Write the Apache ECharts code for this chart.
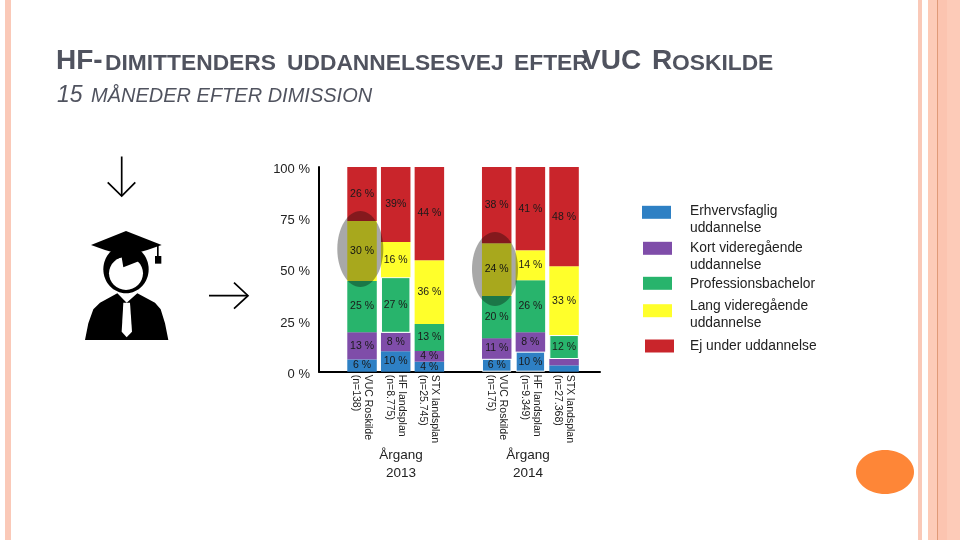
<!DOCTYPE html>
<html>
<head>
<meta charset="utf-8">
<style>html,body{margin:0;padding:0;background:#fff}#c{width:960px;height:540px}</style>
<script src="https://cdn.jsdelivr.net/npm/echarts@6/dist/echarts.min.js"></script>
</head>
<body>
<div id="c"></div>
<script>
var categories = ['VUC Roskilde\n(n=138)','HF landsplan\n(n=8.775)','STX landsplan\n(n=25.745)',' ','VUC Roskilde\n(n=175)','HF landsplan\n(n=9.349)','STX landsplan\n(n=27.368)'];
var yTicks = [0,25,50,75,100];
var erhverv   = [6.0, 10.0, 4.9, null, 6.3, 9.8, 3.1];
var kort      = [13.3, 9.0, 5.2, null, 10.1, 9.5, 3.1];
var prof      = [25.0, 27.2, 13.2, null, 20.6, 25.4, 11.7];
var lang      = [29.3, 17.1, 31.2, null, 25.8, 14.6, 33.6];
var ej        = [26.4, 36.7, 45.5, null, 37.2, 40.7, 48.5];
var erhvervLabels = ['6 %','10 %','4 %','','6 %','10 %',''];
var kortLabels    = ['13 %','8 %','4 %','','11 %','8 %',''];
var profLabels    = ['25 %','27 %','13 %','','20 %','26 %','12 %'];
var langLabels    = ['30 %','16 %','36 %','','24 %','14 %','33 %'];
var ejLabels      = ['26 %','39%','44 %','','38 %','41 %','48 %'];
var seriesNames = ['Erhvervsfaglig uddannelse','Kort videregående uddannelse','Professionsbachelor','Lang videregående uddannelse','Ej under uddannelse'];
var legendLines = ['Erhvervsfaglig\nuddannelse','Kort videregående\nuddannelse','Professionsbachelor','Lang videregående\nuddannelse','Ej under uddannelse'];
var colors = ['#2E80C4','#7F4DA9','#28B46C','#FFFF2B','#C9252B'];
var cohorts = ['Årgang\n2013','Årgang\n2014'];

var FONT = '"Liberation Sans", Arial, sans-serif';
var TITLE = '#50535F';

function stripe(x,w,c){return {type:'rect',silent:true,z:0,shape:{x:x,y:0,width:w,height:540},style:{fill:c}};}
function poly(pts,fill,z){return {type:'polygon',silent:true,z:z||5,shape:{points:pts.map(function(p){return [60+p[0]/3,150+p[1]/3];})},style:{fill:fill}};}
function ell(cx,cy,rx,ry,fill,z){return {type:'ellipse',silent:true,z:z||5,shape:{cx:60+cx/3,cy:150+cy/3,rx:rx/3,ry:ry/3},style:{fill:fill}};}
function arrow(lines){return lines.map(function(l){return {type:'polyline',silent:true,z:5,shape:{points:l},style:{stroke:'#000',lineWidth:1.7,fill:'none'}};});}
function titlePiece(text,x,y,size,style){
  return {text:text,left:x,top:y,padding:0,textStyle:{fontFamily:FONT,fontSize:size,fontWeight:style==='italic'?'normal':'bold',fontStyle:style==='italic'?'italic':'normal',color:TITLE}};
}

var legendY = [212.3,248.3,283.3,310.7,346];
var legendX = [642,643,643,643,645];
var legendTextY = [202.5,239.5,275.5,297.5,337.5];

var graphics = [
  stripe(5,6,'#FAC9B8'), stripe(918,4,'#FAC9B8'), stripe(928,32,'#FDCBB8'), stripe(937,10,'#FCC4B0'), stripe(937,1,'#E09A78'),
  {type:'ellipse',silent:true,z:5,shape:{cx:885,cy:472,rx:29,ry:22},style:{fill:'#FE8637'}},
  {type:'ellipse',silent:true,z:20,shape:{cx:360.3,cy:249,rx:23,ry:38},style:{fill:'#A8A8A8',blend:'multiply'}},
  {type:'ellipse',silent:true,z:20,shape:{cx:495,cy:269,rx:23,ry:37},style:{fill:'#A8A8A8',blend:'multiply'}},
  poly([[75,570],[85,520],[100,478],[120,458],[172,430],[200,458],[232,430],[285,458],[302,478],[315,520],[325,570]],'#000'),
  poly([[190,458],[210,458],[216,545],[200,562],[185,545]],'#fff',6),
  ell(198,358,68,72,'#000'),
  ell(198,370,51,50,'#fff',6),
  poly([[146,335],[185,322],[190,352],[240,332],[252,325],[240,300],[160,300]],'#000',7),
  poly([[93,285],[198,243],[305,285],[262,300],[198,318],[135,300]],'#000',8),
  poly([[291,285],[296,285],[296,320],[291,320]],'#000',8),
  poly([[285,318],[304,318],[304,341],[285,341]],'#000',8)
].concat(arrow([
  [[121.7,156.5],[121.7,196]], [[107.7,182.3],[121.7,196],[135.3,182.3]],
  [[209,295.7],[248,295.7]], [[234,282.7],[248,295.7],[234,308.7]]
]));
legendLines.forEach(function(t,i){
  graphics.push({type:'text',silent:true,z:5,x:690,y:legendTextY[i],style:{text:t,font:'13.8px '+FONT,fill:'#222',lineHeight:17,textVerticalAlign:'top'}});
});
cohorts.forEach(function(t,i){
  graphics.push({type:'text',silent:true,z:5,x:[401,528][i],y:446,style:{text:t,font:'13.5px '+FONT,fill:'#222',lineHeight:18,textAlign:'center',textVerticalAlign:'top'}});
});

var allValues = [erhverv,kort,prof,lang,ej];
var allLabels = [erhvervLabels,kortLabels,profLabels,langLabels,ejLabels];
var whiteEdges = {0:{4:1,5:1},2:{1:1,6:1}};
var option = {
  animation:false,
  backgroundColor:'#fff',
  title:[
    titlePiece('HF-',56,47,28),
    titlePiece('DIMITTENDERS',105,52,22.8),
    titlePiece('UDDANNELSESVEJ',287,52,22.8),
    titlePiece('EFTER',514,52,22.8),
    titlePiece('VUC',582,47,28),
    titlePiece('R',652,47,28),
    titlePiece('OSKILDE',672,52,22.8),
    titlePiece('15',57,84,23,'italic'),
    titlePiece('MÅNEDER EFTER DIMISSION',91,86,20,'italic')
  ],
  legend:seriesNames.map(function(n,i){
    return {data:[n],left:legendX[i],top:legendY[i]-6.5,padding:0,itemWidth:29,itemHeight:13,icon:'rect',formatter:function(){return '';},selectedMode:false};
  }),
  grid:[
    {left:319,top:167,width:281,height:204.7},
    {left:345.2,top:167,width:235.7,height:204.7}
  ],
  xAxis:[
    {gridIndex:0,type:'value',min:0,max:1,axisLine:{show:true,onZero:false,lineStyle:{color:'#000',width:2}},axisTick:{show:false},axisLabel:{show:false},splitLine:{show:false}},
    {gridIndex:1,type:'category',data:categories,axisLine:{show:false},axisTick:{show:false},
      axisLabel:{interval:0,rotate:-90,margin:3,fontFamily:FONT,fontSize:10.5,lineHeight:12,color:'#222'}}
  ],
  yAxis:[
    {gridIndex:0,type:'value',min:0,max:100,interval:25,axisLine:{show:true,lineStyle:{color:'#000',width:2}},axisTick:{show:false},splitLine:{show:false},
      axisLabel:{margin:9,formatter:'{a|{value} %}',rich:{a:{fontFamily:FONT,fontSize:13,color:'#222',padding:[5,0,0,0]}}}},
    {gridIndex:1,type:'value',min:0,max:100,show:false,splitLine:{show:false}}
  ],
  series:seriesNames.map(function(n,i){
    var edges = whiteEdges[i] || {};
    return {
      name:n,type:'bar',stack:'all',xAxisIndex:1,yAxisIndex:1,barWidth:29.5,
      data:allValues[i].map(function(v,k){
        return edges[k] ? {value:v,itemStyle:{borderColor:'#fff',borderWidth:edges[k]}} : v;
      }),
      itemStyle:{color:colors[i]},
      label:{show:true,position:'inside',fontFamily:FONT,fontSize:10.5,color:'#1a1a1a',
        formatter:function(p){return allLabels[i][p.dataIndex];}}
    };
  }),
  graphic:{elements:graphics}
};
var chart = echarts.init(document.getElementById('c'),null,{renderer:'canvas'});
chart.setOption(option);
</script>
</body>
</html>
